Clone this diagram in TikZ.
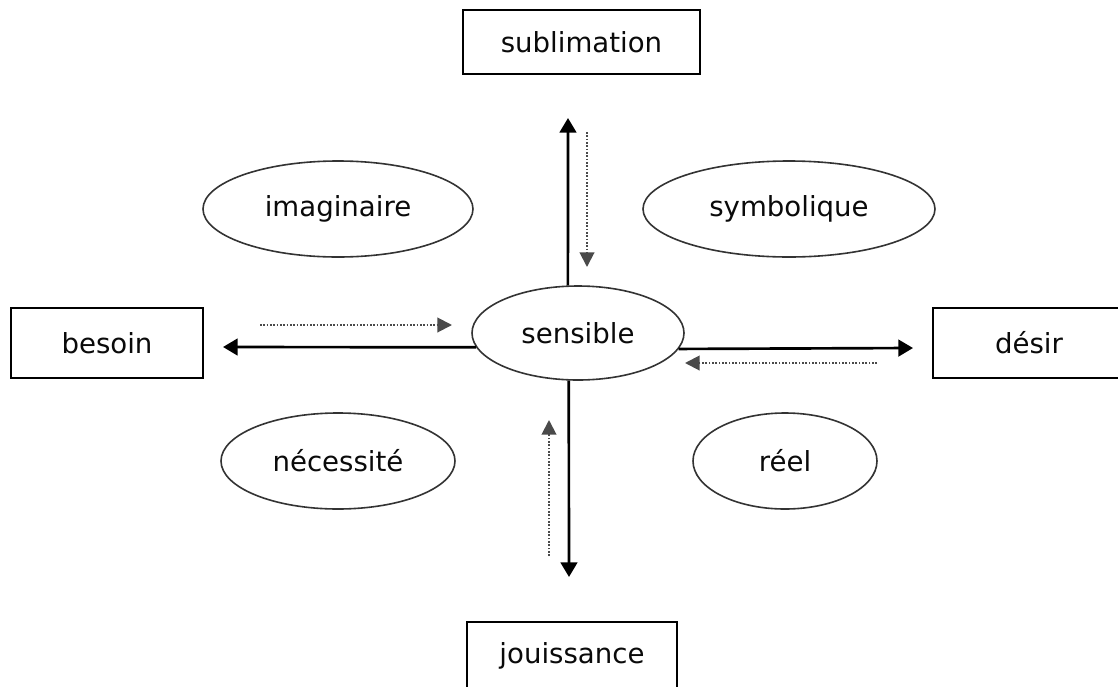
\documentclass[tikz,border=0pt]{standalone}
\usepackage{fontspec}
\setmainfont{DejaVu Sans}
\usetikzlibrary{shapes.geometric,arrows.meta}
\definecolor{rim}{HTML}{333333}
\definecolor{dotgrey}{HTML}{4A4A4A}
\definecolor{ink}{HTML}{0A0A0A}
\tikzset{
  lbl/.style={font=\fontsize{20.7}{25}\selectfont, text=ink, inner sep=0pt},
  pole/.style={lbl, draw=black, line width=1.5pt, rectangle},
  realm/.style={lbl, draw=rim, line width=1.2pt, ellipse},
  axis/.style={line width=2pt, draw=black, -{Triangle[length=11pt,width=12.5pt]}},
  flow/.style={line width=1.5pt, draw=dotgrey, dash pattern=on 1.2pt off 1.3pt,
    -{Triangle[length=11pt,width=11pt,fill=dotgrey]}}
}
\begin{document}
\begin{tikzpicture}[x=0.75pt, y=-0.75pt]
  \useasboundingbox (0,0) rectangle (1118,686);
  \clip (0,0) rectangle (1118,686);
  \fill[white] (0,0) rectangle (1118,686);

  % the four poles
  \node[pole, minimum width=177.75pt, minimum height=48pt] (subl) at (581.5,42) {sublimation};
  \node[pole, minimum width=144pt, minimum height=52.5pt] (besoin) at (107,343) {besoin};
  \node[pole, minimum width=144pt, minimum height=52.5pt] (desir) at (1029,343) {désir};
  \node[pole, minimum width=157.5pt, minimum height=51pt] (jouis) at (572,656) {jouissance};

  % the registers
  \node[realm, minimum width=159pt, minimum height=70.5pt] (sens) at (578,333) {sensible};
  \node[realm, minimum width=202.5pt, minimum height=72pt] (imag) at (338,209) {imaginaire};
  \node[realm, minimum width=219pt, minimum height=72pt] (symb) at (789,209) {symbolique};
  \node[realm, minimum width=175.5pt, minimum height=72pt] (nece) at (338,461) {nécessité};
  \node[realm, minimum width=138pt, minimum height=72pt] (reel) at (785,461) {réel};

  % free ends of the axes
  \coordinate (tipN) at (568,118);
  \coordinate (tipW) at (223,347);
  \coordinate (tipE) at (913,348);
  \coordinate (tipS) at (569,577);

  \draw[axis] (sens.102) -- (tipN);
  \draw[axis] (sens.188) -- (tipW);
  \draw[axis] (sens.351.5) -- (tipE);
  \draw[axis] (sens.259) -- (tipS);

  % returning flows
  \coordinate (nA) at (587,132);  \coordinate (nB) at (587,267);
  \coordinate (wA) at (260,325);  \coordinate (wB) at (452,325);
  \coordinate (eA) at (877,363);  \coordinate (eB) at (685,363);
  \coordinate (sA) at (549,556);  \coordinate (sB) at (549,420);

  \draw[flow] (nA) -- (nB);
  \draw[flow] (wA) -- (wB);
  \draw[flow] (eA) -- (eB);
  \draw[flow] (sA) -- (sB);
\end{tikzpicture}
\end{document}
